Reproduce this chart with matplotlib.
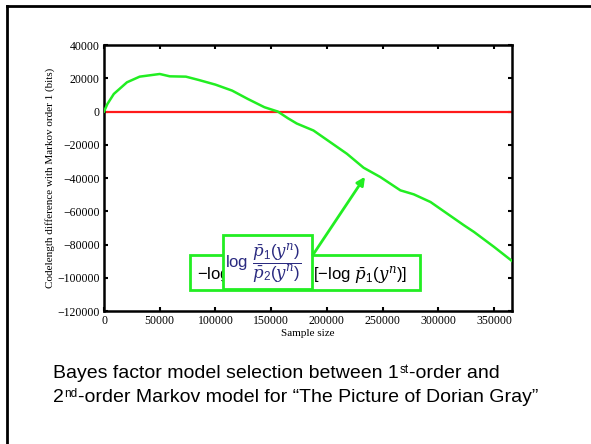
import matplotlib.pyplot as plt
from matplotlib.lines import Line2D
from matplotlib.patches import Rectangle

plt.rcParams['mathtext.fontset'] = 'custom'
plt.rcParams['mathtext.rm'] = 'Liberation Sans'
plt.rcParams['mathtext.it'] = 'DejaVu Serif:italic'
plt.rcParams['mathtext.bf'] = 'Liberation Sans:bold'

# codelength difference (order 2 vs order 1) along the text
sample_size = [0, 3000, 8800, 20600, 32000, 50000, 59000, 73500, 85000, 100000,
               115000, 129000, 144000, 156000, 165000, 173000, 188000, 203000,
               218000, 233000, 248000, 266000, 278000, 293000, 308000, 323000,
               332000, 350000, 366000]
codelength_diff = [0, 4500, 10600, 17600, 21000, 22600, 21200, 21000, 19000, 16200,
                   12600, 7600, 2600, 0, -4000, -7200, -11400, -18400,
                   -25400, -33800, -39400, -47400, -49800, -54400, -61400, -68400,
                   -72400, -81400, -89800]

x_ticks = [0, 50000, 100000, 150000, 200000, 250000, 300000, 350000]
y_ticks = [-120000, -100000, -80000, -60000, -40000, -20000, 0, 20000, 40000]

green = '#22ee22'

fig = plt.figure(figsize=(5.91, 4.44), dpi=100)
ax = fig.add_axes([0.176, 0.2995, 0.690, 0.599])

ax.axhline(0, color='#ff1a1a', lw=1.6, zorder=2)
ax.plot(sample_size, codelength_diff, color=green, lw=1.8, zorder=3)

ax.set_xlim(0, 366000)
ax.set_ylim(-120000, 40000)
ax.set_xticks(x_ticks)
ax.set_yticks(y_ticks)
ax.set_xticklabels([str(v) for v in x_ticks], family='Liberation Serif', fontsize=8.5)
ax.set_yticklabels([str(v).replace('-', '\u2212') for v in y_ticks],
                   family='Liberation Serif', fontsize=8.5)
ax.tick_params(direction='in', length=3, width=1.5, top=True, right=True, pad=3)
for s in ax.spines.values():
    s.set_linewidth(1.8)

ax.set_xlabel('Sample size', family='Liberation Serif', fontsize=8, labelpad=1)
ax.set_ylabel('Codelength difference with Markov order 1 (bits)',
              family='Liberation Serif', fontsize=8, labelpad=2)

# annotation: the plotted quantity written out
ax.add_patch(Rectangle((0.211, 0.079), 0.564, 0.1315, transform=ax.transAxes,
                       fill=False, ec=green, lw=2, zorder=5, clip_on=False))
ax.text(0.228, 0.135, r'$-\log\,\bar{p}_2(y^n) - $', transform=ax.transAxes,
        fontsize=12, va='center', ha='left', zorder=5)
ax.text(0.513, 0.135, r'$[-\log\,\bar{p}_1(y^n)]$', transform=ax.transAxes,
        fontsize=12, va='center', ha='left', zorder=5)

ax.add_patch(Rectangle((0.291, 0.0816), 0.2195, 0.2041, transform=ax.transAxes,
                       fc='white', ec=green, lw=2, zorder=6, clip_on=False))
ax.text(0.297, 0.18, r'$\log\,\dfrac{\bar{p}_1(y^n)}{\bar{p}_2(y^n)}$',
        transform=ax.transAxes, fontsize=12, color='#2a2a80',
        va='center', ha='left', zorder=7)

ax.annotate('', xy=(0.640, 0.505), xytext=(0.512, 0.2105),
            xycoords='axes fraction', textcoords='axes fraction',
            arrowprops=dict(arrowstyle='-|>', color=green, lw=2,
                            mutation_scale=12, shrinkA=0, shrinkB=0),
            zorder=6)

# slide frame
fig.add_artist(Line2D([7 / 591, 7 / 591], [0, 1 - 6 / 444], color='black', lw=2))
fig.add_artist(Line2D([7 / 591, 1], [1 - 6 / 444, 1 - 6 / 444], color='black', lw=2))


def caption_line(y, head, sup, tail):
    # text, small raised suffix, then the rest on the same baseline
    kw = dict(family='Liberation Sans', ha='left')
    t1 = fig.text(53 / 591, 1 - y / 444, head, fontsize=14, va='baseline', **kw)
    s = ax.annotate(sup, xy=(1, 1), xycoords=t1, xytext=(0.5, 1.0),
                    textcoords='offset points', va='top', fontsize=8.5,
                    annotation_clip=False, **kw)
    ax.annotate(tail, xy=(1, 0), xycoords=(s, t1), va='bottom', fontsize=14,
                annotation_clip=False, **kw)


caption_line(378, 'Bayes factor model selection between 1', 'st', '-order and')
caption_line(402, '2', 'nd', '-order Markov model for \u201cThe Picture of Dorian Gray\u201d')

fig.savefig('out.png', dpi=100)
